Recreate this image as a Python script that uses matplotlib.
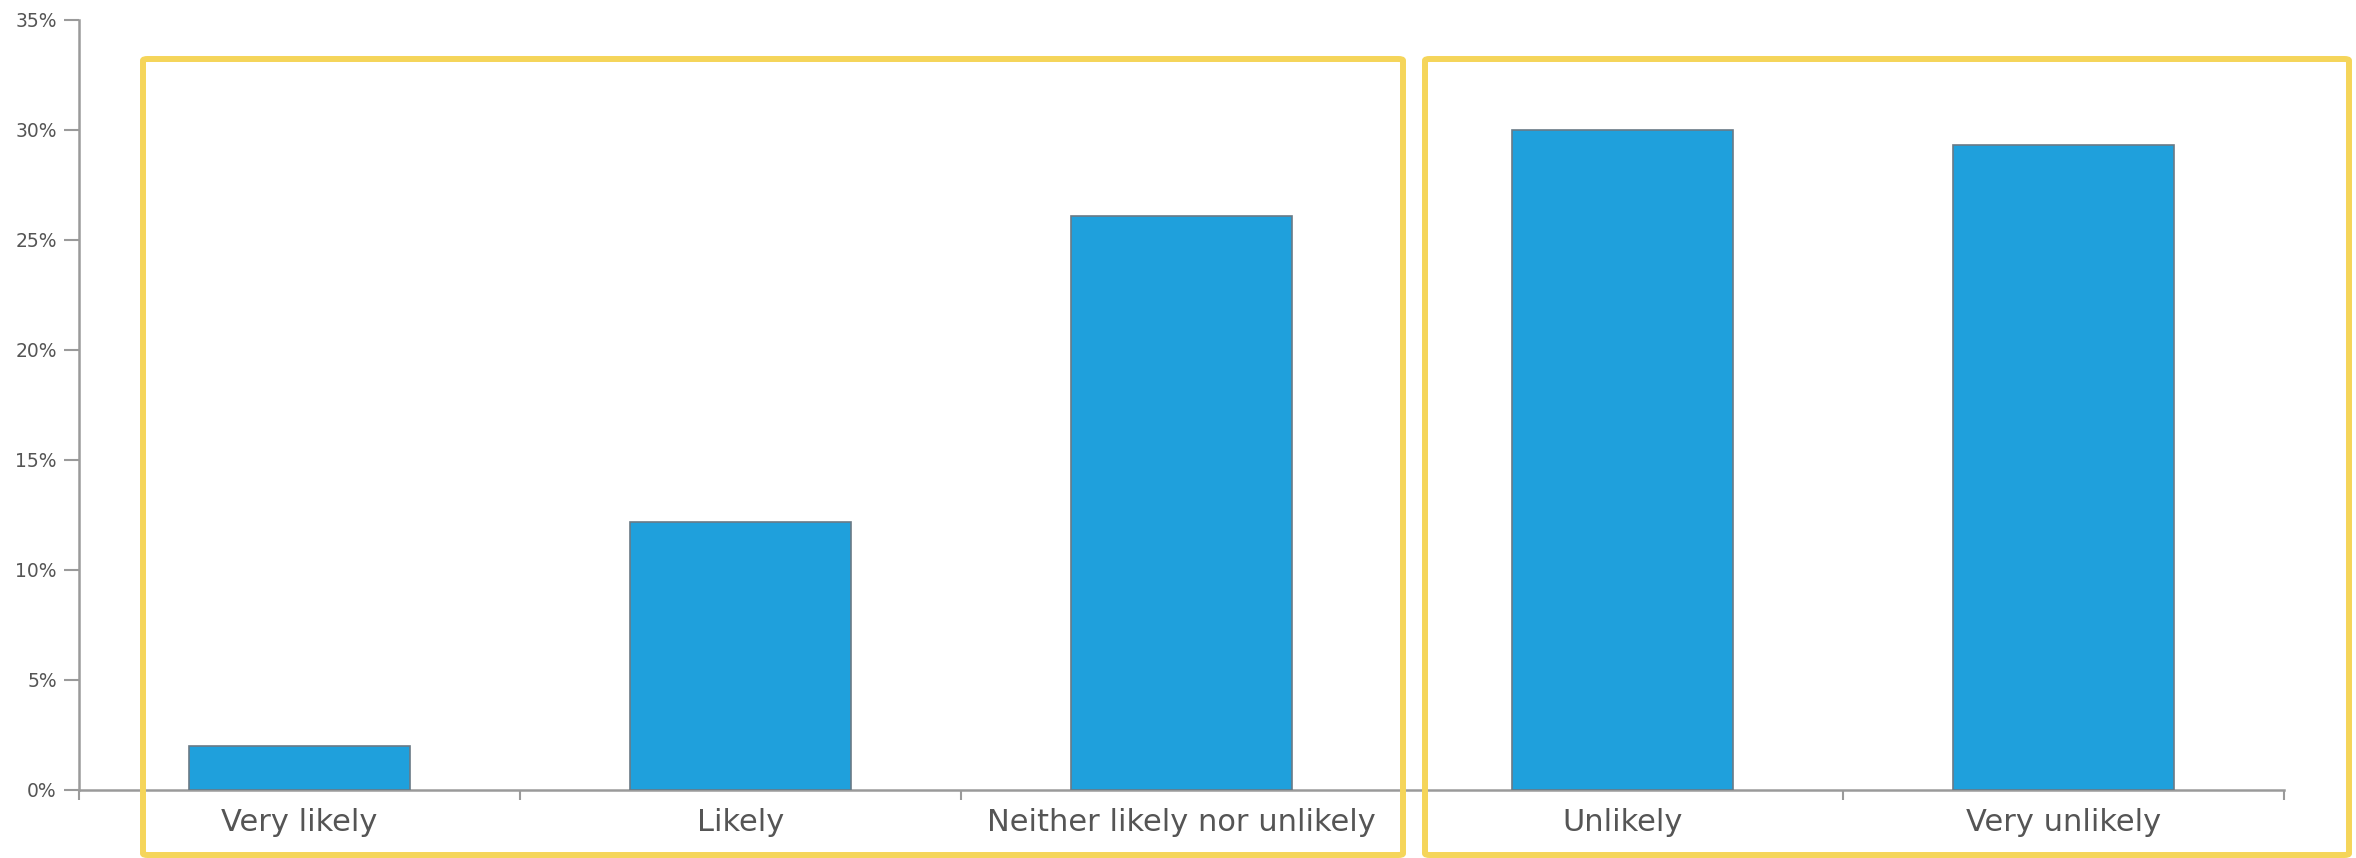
import matplotlib
matplotlib.use('Agg')
import matplotlib.pyplot as plt
from matplotlib.patches import FancyBboxPatch
from matplotlib.ticker import FixedLocator, FuncFormatter

categories = ['Very likely', 'Likely', 'Neither likely nor unlikely', 'Unlikely', 'Very unlikely']
shares = [2.0, 12.2, 26.1, 30.0, 29.3]
y_ticks = [0, 5, 10, 15, 20, 25, 30, 35]

bar_color = '#1fa0dc'
axis_color = '#9a9a9a'
text_color = '#555555'
box_color = '#f5d55a'

fig = plt.figure(figsize=(23.56, 8.58), dpi=100)
ax = fig.add_axes([0.0335, 0.0793, 0.9359, 0.8974])

x = list(range(len(categories)))
ax.bar(x, shares, width=0.5, color=bar_color, edgecolor='#6a7a86', linewidth=1.2, zorder=3)

ax.set_xlim(-0.5, len(categories) - 0.5)
ax.set_ylim(0, 35)

ax.set_yticks(y_ticks)
ax.yaxis.set_major_formatter(FuncFormatter(lambda v, p: f'{int(v)}%'))
ax.tick_params(axis='y', length=11, width=1.5, color=axis_color, labelsize=13.5,
               labelcolor=text_color, pad=5)

ax.set_xticks(x)
ax.set_xticklabels(categories)
ax.tick_params(axis='x', which='major', length=0, labelsize=22, labelcolor=text_color, pad=13)
ax.xaxis.set_minor_locator(FixedLocator([i - 0.5 for i in range(len(categories) + 1)]))
ax.tick_params(axis='x', which='minor', length=7, width=1.5, color=axis_color)

for side in ['top', 'right']:
    ax.spines[side].set_visible(False)
for side in ['left', 'bottom']:
    ax.spines[side].set_color(axis_color)
    ax.spines[side].set_linewidth(1.8)

# yellow highlight boxes (figure pixel coords)
W, H = 2356, 858
boxes = [(143, 59, 1403, 855), (1425, 59, 2349, 855)]
for x0, y0, x1, y1 in boxes:
    rect = FancyBboxPatch((x0 / W, 1 - y1 / H), (x1 - x0) / W, (y1 - y0) / H,
                          boxstyle='round,pad=0,rounding_size=0.002',
                          transform=fig.transFigure, fill=False,
                          edgecolor=box_color, linewidth=4.3, zorder=10)
    fig.patches.append(rect)

fig.savefig('out.png', dpi=100)
